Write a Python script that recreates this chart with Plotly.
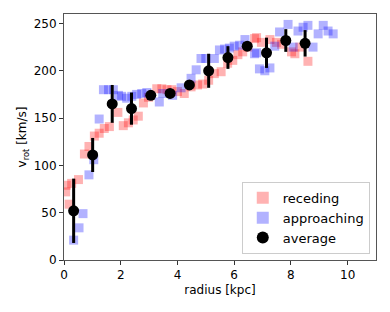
import plotly.graph_objects as go

# receding side (red)
rec_r = [0.06, 0.08, 0.18, 0.27, 0.51, 0.72, 0.88, 1.07, 1.24, 1.42, 1.60, 1.90, 2.09, 2.27, 2.44,
         2.62, 2.80, 2.98, 3.27, 3.45, 3.63, 3.80, 4.00, 4.24, 4.48, 4.71, 4.89, 5.10, 5.30, 5.54,
         5.77, 5.95, 6.13, 6.30, 6.48, 6.72, 6.79, 6.96, 7.26, 7.49, 7.67, 8.02, 8.14, 8.31, 8.60]
rec_v = [72, 79, 59, 81, 85, 112, 120, 131, 134, 139, 141, 156, 142, 145, 148,
         152, 166, 172, 181, 181, 180, 180, 178, 176, 183, 185, 186, 190, 197, 199,
         208, 211, 217, 220, 225, 234, 235, 230, 233, 230, 228, 220, 218, 225, 210]

# approaching side (blue)
app_r = [0.34, 0.53, 0.67, 0.88, 1.05, 1.24, 1.39, 1.57, 1.74, 1.92, 2.03, 2.21, 2.39, 2.56, 2.74,
         2.92, 3.36, 3.48, 3.83, 4.13, 4.48, 4.66, 4.83, 5.00, 5.30, 5.48, 5.66, 5.83, 6.00, 6.19,
         6.38, 6.72, 6.79, 6.89, 7.08, 7.26, 7.43, 7.60, 7.90, 8.08, 8.25, 8.43, 8.60, 8.78, 8.96,
         9.14, 9.31, 9.49]
app_v = [21, 34, 49, 90, 106, 149, 180, 180, 180, 174, 173, 171, 173, 175, 176,
         177, 167, 176, 174, 182, 192, 201, 213, 213, 213, 222, 223, 224, 226, 227,
         233, 218, 219, 202, 200, 203, 226, 241, 249, 225, 242, 246, 248, 225, 239,
         248, 242, 239]

# binned average
avg_r = [0.34, 1.01, 1.70, 2.38, 3.06, 3.74, 4.42, 5.10, 5.78, 6.46, 7.14, 7.82, 8.50]
avg_v = [52, 111, 165, 160, 174, 176, 185, 200, 214, 226, 219, 232, 229]
avg_err = [34, 18, 20, 17, 3, 3, 3, 18, 12, 3, 16, 12, 14]

x_ticks = [0, 2, 4, 6, 8, 10]
y_ticks = [0, 50, 100, 150, 200, 250]

fig = go.Figure()
fig.add_trace(go.Scatter(
    x=rec_r, y=rec_v, mode="markers", name="receding",
    marker=dict(symbol="square", size=9, color="rgba(255,0,0,0.3)", line=dict(width=0)),
))
fig.add_trace(go.Scatter(
    x=app_r, y=app_v, mode="markers", name="approaching",
    marker=dict(symbol="square", size=9, color="rgba(0,0,255,0.3)", line=dict(width=0)),
))
fig.add_trace(go.Scatter(
    x=avg_r, y=avg_v, mode="markers", name="average",
    marker=dict(symbol="circle", size=11, color="black"),
    error_y=dict(type="data", array=avg_err, visible=True, color="black", thickness=3, width=0),
))

axis_common = dict(
    showgrid=False, zeroline=False, showline=True, linecolor="#555", linewidth=1, mirror=True,
    ticks="outside", ticklen=4, tickcolor="#333", tickfont=dict(size=12, color="black"),
    automargin=False,
)
fig.update_xaxes(range=[0, 11], tickvals=x_ticks,
                 title=dict(text="radius [kpc]", font=dict(size=12), standoff=4), **axis_common)
fig.update_yaxes(range=[0, 260], tickvals=y_ticks,
                 title=dict(text="v<sub>rot</sub> [km/s]", font=dict(size=12), standoff=4), **axis_common)

fig.update_layout(
    width=382, height=304,
    margin=dict(l=56, r=14, t=6, b=52),
    paper_bgcolor="white", plot_bgcolor="white",
    font=dict(family="DejaVu Sans", size=12, color="black"),
    legend=dict(x=0.98, y=0.025, xanchor="right", yanchor="bottom",
                bgcolor="white", bordercolor="#ccc", borderwidth=1,
                font=dict(size=13), itemsizing="constant", tracegroupgap=2),
)

fig.write_html("out.html")
